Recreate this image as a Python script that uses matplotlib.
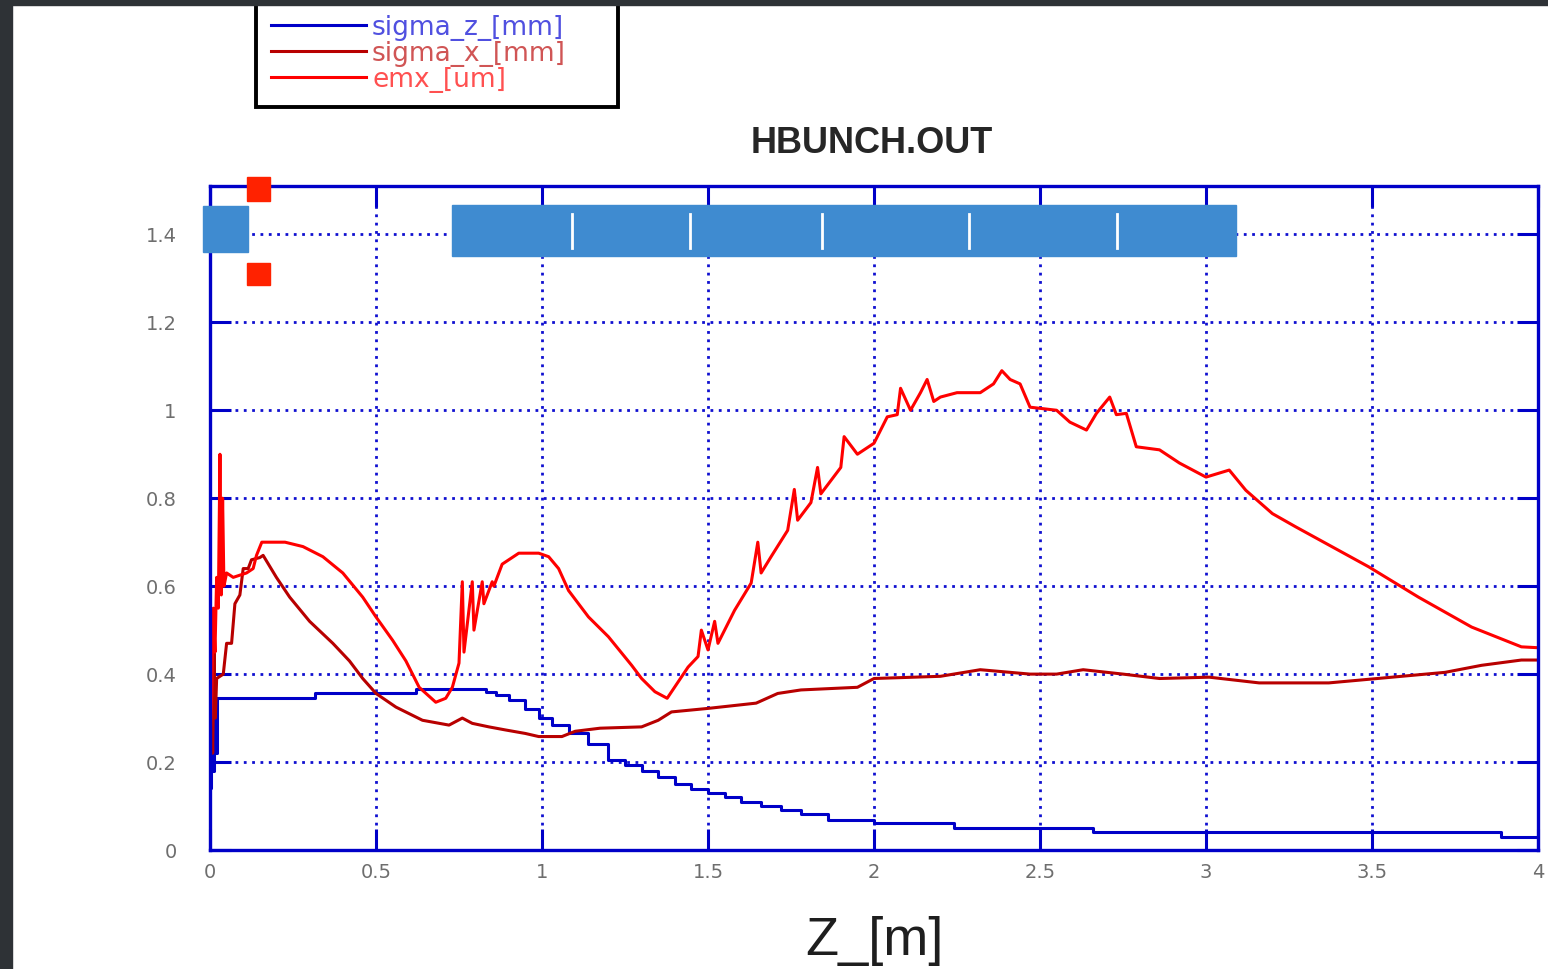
import matplotlib
matplotlib.use("Agg")
import matplotlib.pyplot as plt
from matplotlib.patches import Rectangle
from matplotlib.ticker import FormatStrFormatter

# sigma_z [mm] along z
z_sz = [0.0, 0.004, 0.008, 0.012, 0.016, 0.02, 0.316, 0.62, 0.83, 0.86, 0.90, 0.95,
        0.99, 1.03, 1.08, 1.14, 1.2, 1.25, 1.3, 1.35, 1.4, 1.45, 1.5, 1.55, 1.6,
        1.66, 1.72, 1.78, 1.86, 2.0, 2.24, 2.66, 3.89, 4.0]
sigma_z = [0.14, 0.30, 0.18, 0.33, 0.22, 0.345, 0.357, 0.365, 0.36, 0.352, 0.34, 0.32,
           0.30, 0.285, 0.265, 0.24, 0.205, 0.193, 0.18, 0.165, 0.15, 0.139, 0.13, 0.12, 0.11,
           0.10, 0.09, 0.082, 0.068, 0.061, 0.05, 0.04, 0.03, 0.03]

# sigma_x [mm]
z_sx = [0.0, 0.004, 0.008, 0.012, 0.016, 0.02, 0.04, 0.05, 0.065, 0.075, 0.09, 0.10,
        0.115, 0.125, 0.15, 0.16, 0.2, 0.24, 0.3, 0.37, 0.42, 0.46, 0.5, 0.56, 0.64,
        0.72, 0.76, 0.79, 0.84, 0.89, 0.95, 0.99, 1.06, 1.1, 1.175, 1.3, 1.35, 1.39,
        1.5, 1.645, 1.71, 1.78, 1.95, 2.0, 2.2, 2.32, 2.47, 2.55, 2.63, 2.75, 2.86,
        3.01, 3.16, 3.37, 3.56, 3.72, 3.83, 3.95, 4.0]
sigma_x = [0.18, 0.40, 0.22, 0.45, 0.30, 0.39, 0.40, 0.47, 0.47, 0.56, 0.58, 0.64,
           0.64, 0.66, 0.665, 0.67, 0.62, 0.575, 0.52, 0.47, 0.43, 0.39, 0.356, 0.325, 0.295,
           0.284, 0.30, 0.288, 0.28, 0.273, 0.265, 0.258, 0.258, 0.27, 0.277, 0.28, 0.295, 0.314,
           0.322, 0.334, 0.356, 0.364, 0.37, 0.39, 0.395, 0.41, 0.40, 0.40, 0.41, 0.40, 0.39,
           0.393, 0.38, 0.38, 0.393, 0.404, 0.42, 0.432, 0.432]

# emx [um]
z_ex = [0.0, 0.005, 0.01, 0.015, 0.02, 0.025, 0.03, 0.034, 0.038, 0.042, 0.05, 0.07,
        0.09, 0.11, 0.13, 0.14, 0.156, 0.226, 0.28, 0.34, 0.40, 0.46, 0.5, 0.55, 0.59,
        0.63, 0.68, 0.71, 0.73, 0.75, 0.76, 0.765, 0.79, 0.795, 0.82, 0.825, 0.85, 0.855,
        0.88, 0.93, 0.99, 1.02, 1.05, 1.08, 1.14, 1.2, 1.27, 1.3, 1.34, 1.377, 1.44,
        1.47, 1.48, 1.5, 1.52, 1.53, 1.58, 1.63, 1.65, 1.66, 1.69, 1.74, 1.76, 1.77,
        1.81, 1.83, 1.84, 1.87, 1.90, 1.91, 1.95, 2.0, 2.04, 2.07, 2.08, 2.11, 2.14,
        2.16, 2.18, 2.2, 2.25, 2.32, 2.36, 2.385, 2.41, 2.44, 2.47, 2.55, 2.59, 2.64,
        2.67, 2.71, 2.73, 2.76, 2.79, 2.86, 2.92, 3.0, 3.07, 3.12, 3.2, 3.27,
        3.49, 3.64, 3.80, 3.95, 4.0]
emx = [0.25, 0.35, 0.55, 0.45, 0.62, 0.55, 0.90, 0.58, 0.80, 0.60, 0.63, 0.62,
       0.625, 0.63, 0.64, 0.67, 0.70, 0.70, 0.69, 0.667, 0.63, 0.575, 0.53, 0.477, 0.43,
       0.37, 0.336, 0.345, 0.37, 0.425, 0.61, 0.45, 0.61, 0.50, 0.61, 0.56, 0.61, 0.60,
       0.65, 0.675, 0.675, 0.667, 0.64, 0.59, 0.53, 0.485, 0.42, 0.39, 0.36, 0.345, 0.416,
       0.44, 0.50, 0.455, 0.52, 0.47, 0.545, 0.607, 0.70, 0.63, 0.667, 0.727, 0.82, 0.75,
       0.79, 0.87, 0.81, 0.84, 0.87, 0.94, 0.90, 0.925, 0.985, 0.99, 1.05, 1.0, 1.04,
       1.07, 1.02, 1.03, 1.04, 1.04, 1.06, 1.09, 1.07, 1.06, 1.007, 1.0,
       0.973, 0.955, 0.993, 1.03, 0.99, 0.993, 0.917, 0.91, 0.88, 0.848, 0.864, 0.818, 0.765, 0.735,
       0.644, 0.575, 0.507, 0.462, 0.46]

x_ticks = [0, 0.5, 1, 1.5, 2, 2.5, 3, 3.5, 4]
y_ticks = [0, 0.2, 0.4, 0.6, 0.8, 1.0, 1.2, 1.4]

# beamline element markers drawn over the plot (z from, z to, y from, y to)
cavity = (0.73, 3.09, 1.35, 1.466)
cell_edges = [1.09, 1.446, 1.843, 2.286, 2.732]
gun = (-0.02, 0.114, 1.36, 1.464)
solenoid = [(0.111, 0.181, 1.477, 1.53), (0.111, 0.181, 1.286, 1.336)]

fig = plt.figure(figsize=(15.48, 9.69), dpi=100)
fig.patch.set_facecolor('white')
# dark screen edges, on top of everything
fig.add_artist(Rectangle((0, 0), 12 / 1548, 1, transform=fig.transFigure, color='#2e3236', zorder=10))
fig.add_artist(Rectangle((0, 1 - 5 / 969), 1, 5 / 969, transform=fig.transFigure, color='#2e3236', zorder=10))

ax = fig.add_axes([210 / 1548, 119 / 969, 1328 / 1548, 664 / 969])
l1, = ax.plot(z_sz, sigma_z, color='#0000c8', lw=2.2, drawstyle='steps-post', label='sigma_z_[mm]')
l2, = ax.plot(z_sx, sigma_x, color='#b80000', lw=2.2, label='sigma_x_[mm]')
l3, = ax.plot(z_ex, emx, color='#ff0000', lw=2.2, label='emx_[um]')

ax.set_xlim(0, 4)
ax.set_ylim(0, 1.51)
ax.set_xticks(x_ticks)
ax.set_yticks(y_ticks)
ax.xaxis.set_major_formatter(FormatStrFormatter('%g'))
ax.yaxis.set_major_formatter(FormatStrFormatter('%g'))
ax.grid(True, color='#1010d0', linestyle=(0, (1, 2)), linewidth=2)
ax.tick_params(direction='in', length=15, width=2.2, color='#0000c8', top=True, right=True,
               labelcolor='#6e6e6e', labelsize=14)
ax.tick_params(axis='x', pad=9)
ax.tick_params(axis='y', pad=24)
for s in ax.spines.values():
    s.set_color('#0000c8')
    s.set_linewidth(2.4)

fig.text(872 / 1548, 1 - 153 / 969, 'HBUNCH.OUT', ha='center', va='baseline',
         fontsize=26, fontweight='bold', family='Liberation Sans', color='#262626')
fig.text(874 / 1548, 1 - 955 / 969, 'Z_[m]', ha='center', va='baseline',
         fontsize=39, family='Liberation Sans', color='#1e1e1e')

leg = ax.legend(handles=[l1, l2, l3], loc='upper left',
                bbox_to_anchor=(256 / 1548, 0.0, 362 / 1548, 1.0),
                bbox_transform=fig.transFigure, mode='expand', fontsize=19, labelspacing=0.0,
                handlelength=3.6, handletextpad=0.25, borderpad=0.55, fancybox=False,
                framealpha=1, edgecolor='black', borderaxespad=0)
leg.get_frame().set_linewidth(2.8)
for t, c in zip(leg.get_texts(), ['#5050e0', '#d05555', '#ff5050']):
    t.set_color(c)

# element overlays
ax.add_patch(Rectangle((cavity[0], cavity[2]), cavity[1] - cavity[0], cavity[3] - cavity[2],
                       color='#3f8bd0', clip_on=False, zorder=5))
for e in cell_edges:
    ax.plot([e, e], [1.37, 1.447], color='white', lw=2, clip_on=False, zorder=6)
ax.add_patch(Rectangle((gun[0], gun[2]), gun[1] - gun[0], gun[3] - gun[2],
                       color='#3f8bd0', clip_on=False, zorder=5))
for s in solenoid:
    ax.add_patch(Rectangle((s[0], s[2]), s[1] - s[0], s[3] - s[2],
                           color='#ff2200', clip_on=False, zorder=5))

fig.savefig('out.png', dpi=100)
